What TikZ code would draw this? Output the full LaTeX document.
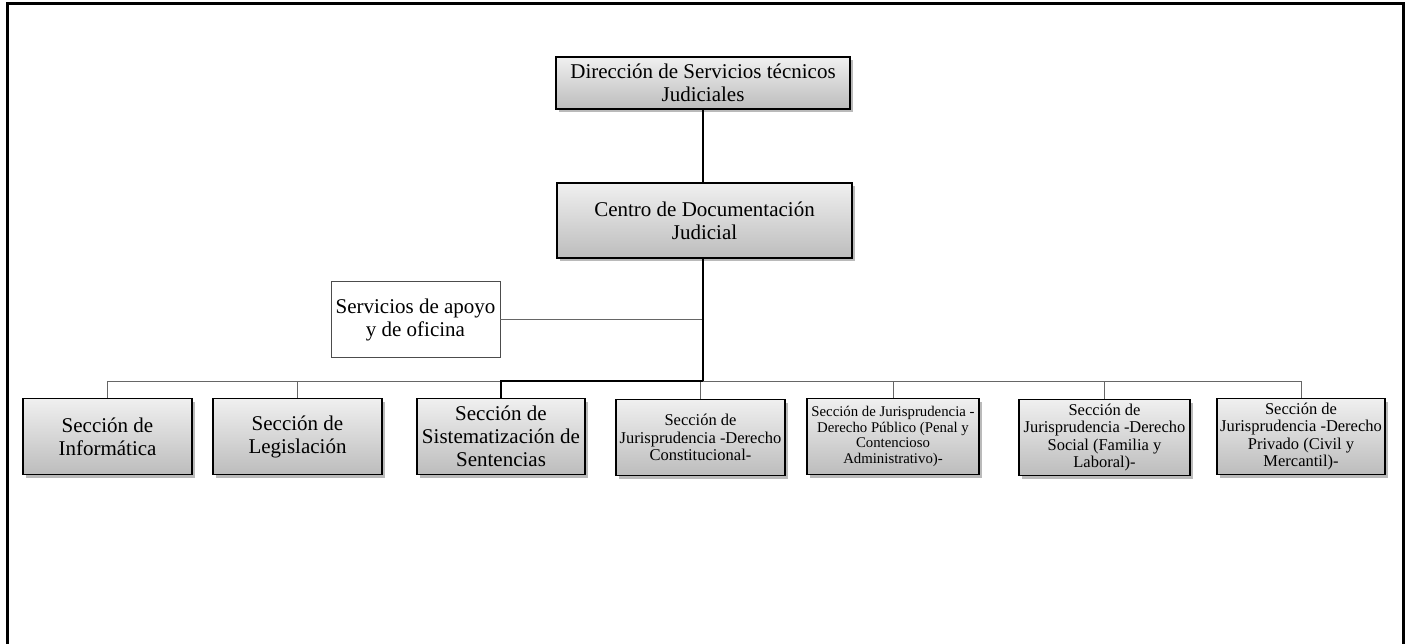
\documentclass[tikz,border=0pt]{standalone}
\usepackage{fontspec}
\setmainfont{Liberation Serif}
\usetikzlibrary{shadows}

\begin{document}
\begin{tikzpicture}[x=1pt,y=-1pt,
  unitbox/.style={draw=black, line width=1.4pt, top color=gray!12, bottom color=gray!52,
    align=center, inner sep=0pt, minimum height=76pt,
    drop shadow={shadow xshift=2.5pt, shadow yshift=-3pt, fill=black!45, opacity=0.6}},
  bigtext/.style={font=\fontsize{21}{23}\selectfont},
  midtext/.style={font=\fontsize{16.5}{17.5}\selectfont},
  smalltext/.style={font=\fontsize{14.8}{15.5}\selectfont},
  plainbox/.style={draw=black!70, line width=0.8pt, fill=white, align=center, inner sep=0pt},
  trunk/.style={line width=2.6pt, black},
  branch/.style={line width=0.9pt, black!60}]

  \useasboundingbox (0,0) rectangle (1408,644);

  % outer frame, open at the bottom
  \draw[line width=3pt] (7,660) -- (7,4) -- (1403,4) -- (1403,660);

  % head units
  \node[unitbox, bigtext, minimum width=294pt, minimum height=52pt] (dir) at (703,83)
    {Dirección de Servicios técnicos\\Judiciales};
  \node[unitbox, bigtext, minimum width=295pt, minimum height=75pt] (cdj) at (704.5,220.5)
    {Centro de Documentación\\Judicial};

  % staff unit
  \node[plainbox, font=\fontsize{21}{23}\selectfont, minimum width=169pt, minimum height=76pt]
    (serv) at (415.5,319.5) {Servicios de apoyo\\y de oficina};

  % sections
  \node[unitbox, bigtext, minimum width=169pt] (inf) at (107.5,436.5) {Sección de\\Informática};
  \node[unitbox, bigtext, minimum width=169pt] (leg) at (297.5,436.5) {Sección de\\Legislación};
  \node[unitbox, bigtext, minimum width=168pt] (sis) at (501,436.5)
    {Sección de\\Sistematización de\\Sentencias};
  \node[unitbox, midtext, minimum width=169pt] (con) at (700.5,437.5)
    {Sección de\\Jurisprudencia -Derecho\\Constitucional-};
  \node[unitbox, smalltext, minimum width=172pt] (pub) at (893,436.5)
    {Sección de Jurisprudencia -\\Derecho Público (Penal y\\Contencioso\\Administrativo)-};
  \node[unitbox, midtext, minimum width=171pt] (soc) at (1104.5,437.5)
    {Sección de\\Jurisprudencia -Derecho\\Social (Familia y\\Laboral)-};
  \node[unitbox, midtext, minimum width=168pt] (pri) at (1301,436.5)
    {Sección de\\Jurisprudencia -Derecho\\Privado (Civil y\\Mercantil)-};

  % distribution bus
  \coordinate (bus) at (703,381);

  % connectors
  \draw[branch] (serv.east) -- (serv.east -| bus);
  \draw[branch] (inf.north) |- (bus);
  \draw[branch] (leg.north) |- (bus);
  \draw[branch] (con.north) |- (bus);
  \draw[branch] (pub.north) |- (bus);
  \draw[branch] (soc.north) |- (bus);
  \draw[branch] (pri.north) |- (bus);
  \draw[trunk] (dir.south) -- (dir.south |- cdj.north);
  \draw[trunk] (cdj.south -| bus) -- (bus);
  \draw[trunk] (sis.north) |- (bus);
\end{tikzpicture}
\end{document}
